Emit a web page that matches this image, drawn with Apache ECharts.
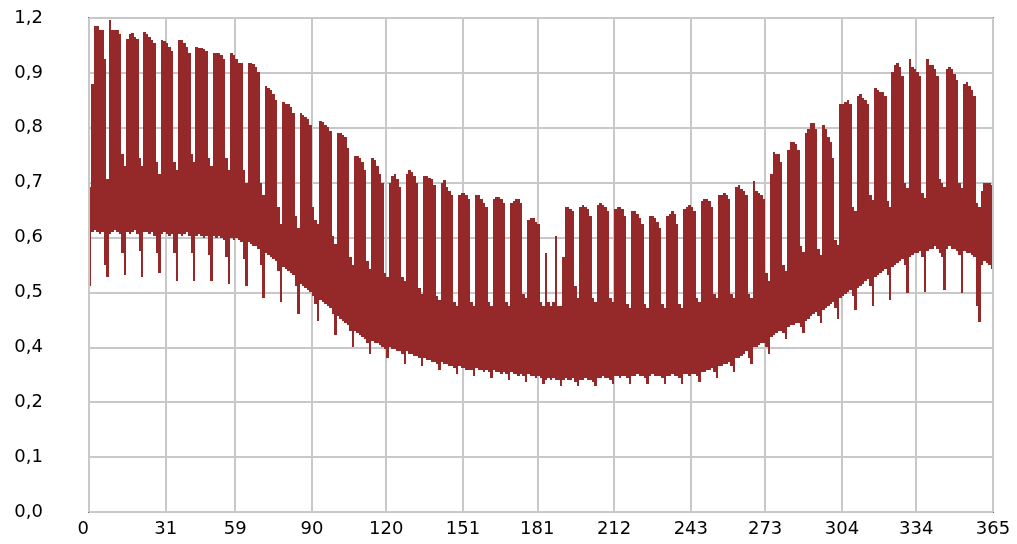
<!DOCTYPE html>
<html>
<head>
<meta charset="utf-8">
<script src="https://cdn.jsdelivr.net/npm/echarts@6/dist/echarts.min.js"></script>
<style>
  html, body { margin: 0; padding: 0; background: #ffffff; }
  #chart { width: 1017px; height: 544px; }
</style>
</head>
<body>
<div id="chart"></div>
<script>
// Day-of-year positions of the month boundaries shown on the x axis
const X_TICKS = [0, 31, 59, 90, 120, 151, 181, 212, 243, 273, 304, 334, 365];

// Labels printed on the nine evenly spaced y gridlines (bottom to top)
const Y_TICK_LABELS = ['0,0', '0,1', '0,2', '0,4', '0,5', '0,6', '0,7', '0,8', '0,9', '1,2'];
const Y_MAX = 1.2;

// Daily maximum of the load profile (one value per day, 0..364)
const DAY_HIGH = [
  0.79,
  1.04, 1.18, 1.18, 1.17, 1.17, 1.10, 0.81,
  1.195, 1.17, 1.17, 1.17, 1.16, 0.87, 0.84,
  1.15, 1.16, 1.163, 1.155, 1.15, 0.86, 0.84,
  1.165, 1.16, 1.155, 1.146, 1.14, 0.85, 0.82,
  1.146, 1.145, 1.14, 1.13, 1.12, 0.85, 0.83,
  1.146, 1.146, 1.14, 1.13, 1.114, 0.87, 0.85,
  1.13, 1.128, 1.128, 1.125, 1.12, 0.86, 0.84,
  1.114, 1.114, 1.114, 1.11, 1.10, 0.86, 0.83,
  1.114, 1.11, 1.10, 1.09, 1.09, 0.83, 0.80,
  1.09, 1.09, 1.088, 1.08, 1.07, 0.80, 0.77,
  1.035, 1.03, 1.025, 1.015, 1.00, 0.74, 0.70,
  0.995, 0.99, 0.99, 0.985, 0.97, 0.72, 0.69,
  0.97, 0.965, 0.96, 0.955, 0.94, 0.74, 0.71, 0.70,
  0.95, 0.948, 0.94, 0.935, 0.925, 0.67, 0.65,
  0.92, 0.92, 0.915, 0.91, 0.885, 0.62, 0.60,
  0.865, 0.865, 0.86, 0.85, 0.83, 0.61, 0.59,
  0.86, 0.855, 0.84, 0.82, 0.80, 0.58, 0.57,
  0.80, 0.815, 0.82, 0.81, 0.79, 0.57, 0.56,
  0.82, 0.83, 0.825, 0.815, 0.80, 0.545, 0.53,
  0.815, 0.815, 0.812, 0.81, 0.795, 0.525, 0.515,
  0.80, 0.806, 0.79, 0.78, 0.77, 0.51, 0.50,
  0.77, 0.775, 0.775, 0.77, 0.76, 0.51, 0.50,
  0.77, 0.77, 0.76, 0.75, 0.74, 0.51, 0.50,
  0.76, 0.765, 0.765, 0.76, 0.75, 0.51, 0.50,
  0.75, 0.755, 0.76, 0.76, 0.75, 0.53, 0.52,
  0.71, 0.715, 0.715, 0.705, 0.70, 0.51, 0.50,
  0.63, 0.51, 0.50, 0.51, 0.67, 0.50, 0.50,
  0.62, 0.74, 0.74, 0.735, 0.73, 0.55, 0.52,
  0.74, 0.745, 0.74, 0.735, 0.72, 0.52, 0.51,
  0.745, 0.75, 0.745, 0.74, 0.73, 0.52, 0.51,
  0.735, 0.74, 0.74, 0.735, 0.72, 0.505, 0.495,
  0.73, 0.73, 0.725, 0.715, 0.70, 0.505, 0.495,
  0.72, 0.72, 0.715, 0.705, 0.69, 0.505, 0.495,
  0.72, 0.725, 0.73, 0.725, 0.70, 0.505, 0.495,
  0.735, 0.74, 0.745, 0.74, 0.73, 0.52, 0.51,
  0.755, 0.76, 0.76, 0.755, 0.74, 0.53, 0.52,
  0.77, 0.77, 0.775, 0.77, 0.76, 0.53, 0.52,
  0.79, 0.795, 0.785, 0.78, 0.77, 0.53, 0.52,
  0.805, 0.78, 0.775, 0.77, 0.76, 0.58, 0.56,
  0.82, 0.875, 0.87, 0.87, 0.85, 0.60, 0.585,
  0.88, 0.90, 0.90, 0.895, 0.88, 0.645, 0.632,
  0.92, 0.93, 0.945, 0.945, 0.93, 0.64, 0.624,
  0.94, 0.93, 0.91, 0.90, 0.86, 0.66, 0.649,
  0.99, 0.99, 0.995, 1.00, 0.99, 0.74, 0.73,
  1.01, 1.015, 1.005, 1.00, 0.99, 0.77, 0.758,
  1.03, 1.025, 1.02, 1.02, 1.01, 0.755, 0.742,
  1.07, 1.085, 1.09, 1.08, 1.06, 0.80, 0.786,
  1.10, 1.08, 1.075, 1.07, 1.06, 0.775, 0.762,
  1.10, 1.085, 1.085, 1.075, 1.06, 0.81, 0.80, 0.79,
  1.075, 1.08, 1.075, 1.065, 1.05, 0.80, 0.786,
  1.04, 1.045, 1.035, 1.025, 1.01, 0.75, 0.74,
  0.78, 0.80, 0.80, 0.80, 0.795
];

// Daily minimum of the load profile (one value per day, 0..364)
const DAY_LOW = [
  0.55,
  0.68, 0.685, 0.68, 0.675, 0.68, 0.60, 0.57,
  0.675, 0.68, 0.685, 0.68, 0.675, 0.63, 0.575,
  0.68, 0.675, 0.68, 0.685, 0.675, 0.635, 0.57,
  0.68, 0.68, 0.675, 0.68, 0.67, 0.63, 0.58,
  0.675, 0.68, 0.675, 0.67, 0.675, 0.63, 0.56,
  0.675, 0.67, 0.675, 0.68, 0.67, 0.63, 0.56,
  0.67, 0.675, 0.67, 0.665, 0.67, 0.625, 0.56,
  0.67, 0.665, 0.67, 0.665, 0.66, 0.62, 0.555,
  0.665, 0.66, 0.665, 0.66, 0.655, 0.615, 0.55,
  0.655, 0.65, 0.645, 0.645, 0.64, 0.60, 0.52,
  0.63, 0.625, 0.62, 0.615, 0.61, 0.585, 0.51,
  0.595, 0.59, 0.585, 0.58, 0.575, 0.55, 0.48,
  0.555, 0.55, 0.545, 0.54, 0.535, 0.525, 0.505, 0.465,
  0.515, 0.51, 0.505, 0.50, 0.495, 0.48, 0.43,
  0.475, 0.47, 0.465, 0.46, 0.455, 0.44, 0.40,
  0.44, 0.435, 0.43, 0.425, 0.42, 0.41, 0.385,
  0.415, 0.41, 0.41, 0.405, 0.40, 0.395, 0.375,
  0.40, 0.395, 0.395, 0.39, 0.39, 0.385, 0.36,
  0.39, 0.385, 0.385, 0.38, 0.38, 0.375, 0.355,
  0.375, 0.37, 0.37, 0.365, 0.365, 0.36, 0.345,
  0.365, 0.36, 0.36, 0.355, 0.355, 0.35, 0.335,
  0.355, 0.35, 0.35, 0.345, 0.345, 0.345, 0.33,
  0.35, 0.345, 0.345, 0.34, 0.345, 0.34, 0.325,
  0.345, 0.34, 0.34, 0.335, 0.34, 0.335, 0.32,
  0.34, 0.335, 0.335, 0.33, 0.335, 0.33, 0.315,
  0.335, 0.33, 0.33, 0.325, 0.33, 0.325, 0.31,
  0.32, 0.325, 0.32, 0.325, 0.32, 0.32, 0.305,
  0.32, 0.325, 0.32, 0.32, 0.325, 0.315, 0.305,
  0.32, 0.32, 0.325, 0.32, 0.32, 0.315, 0.305,
  0.325, 0.325, 0.33, 0.325, 0.325, 0.32, 0.31,
  0.33, 0.33, 0.325, 0.33, 0.33, 0.325, 0.31,
  0.33, 0.33, 0.335, 0.33, 0.33, 0.325, 0.31,
  0.33, 0.335, 0.33, 0.33, 0.33, 0.325, 0.31,
  0.33, 0.33, 0.335, 0.33, 0.33, 0.325, 0.31,
  0.335, 0.335, 0.33, 0.335, 0.335, 0.33, 0.315,
  0.34, 0.34, 0.345, 0.345, 0.35, 0.34, 0.325,
  0.355, 0.355, 0.36, 0.36, 0.365, 0.355, 0.34,
  0.375, 0.375, 0.38, 0.385, 0.39, 0.375, 0.36,
  0.40, 0.40, 0.405, 0.41, 0.41, 0.40, 0.385,
  0.425, 0.43, 0.435, 0.44, 0.44, 0.435, 0.42,
  0.45, 0.455, 0.455, 0.46, 0.46, 0.45, 0.435,
  0.465, 0.47, 0.475, 0.48, 0.485, 0.475, 0.46,
  0.49, 0.495, 0.50, 0.505, 0.51, 0.495, 0.47,
  0.52, 0.525, 0.53, 0.535, 0.54, 0.525, 0.49,
  0.545, 0.55, 0.555, 0.56, 0.565, 0.55, 0.50,
  0.57, 0.575, 0.58, 0.585, 0.59, 0.575, 0.515,
  0.595, 0.60, 0.605, 0.61, 0.615, 0.60, 0.531,
  0.62, 0.625, 0.63, 0.63, 0.635, 0.62, 0.535,
  0.635, 0.64, 0.64, 0.645, 0.64, 0.63, 0.62, 0.539,
  0.64, 0.645, 0.64, 0.64, 0.635, 0.625, 0.531,
  0.635, 0.63, 0.63, 0.625, 0.62, 0.50, 0.462,
  0.60, 0.61, 0.605, 0.60, 0.59
];

const LINE_COLOR = '#952828';
const LABEL_FONT = 'DejaVu Sans';

// [day, low, high] rows for the custom series
const dayRanges = DAY_HIGH.map((high, day) => [day, DAY_LOW[day], high]);
const yStep = Y_MAX / (Y_TICK_LABELS.length - 1);

// Each day becomes one filled strip spanning its low..high range
function renderDay(params, api) {
  const day = api.value(0);
  const top = api.coord([day, api.value(2)]);
  const bottom = api.coord([day + 1, api.value(1)]);
  const cs = params.coordSys;
  let x0 = Math.round(top[0]);
  let x1 = Math.round(bottom[0]);
  x0 = Math.max(x0, cs.x + 1);
  x1 = Math.min(x1, cs.x + cs.width - 1);
  return {
    type: 'rect',
    shape: { x: x0, y: Math.round(top[1]), width: x1 - x0, height: Math.round(bottom[1]) - Math.round(top[1]) },
    style: { fill: LINE_COLOR }
  };
}

const chart = echarts.init(document.getElementById('chart'), null, { renderer: 'canvas' });
chart.setOption({
  animation: false,
  backgroundColor: '#ffffff',
  grid: {
    left: 89, right: 24, top: 18, bottom: 32,
    show: true, borderColor: '#000000', borderWidth: 1.5, backgroundColor: 'transparent'
  },
  xAxis: {
    type: 'value',
    min: 0,
    max: 365,
    axisLine: { show: false },
    axisTick: { show: false, customValues: X_TICKS },
    axisLabel: {
      customValues: X_TICKS,
      color: '#000000',
      fontFamily: LABEL_FONT,
      fontSize: 18,
      margin: 8,
      alignMinLabel: 'right'
    },
    splitLine: { show: true, lineStyle: { color: '#c8c8c8', width: 2 } }
  },
  yAxis: {
    type: 'value',
    min: 0,
    max: Y_MAX,
    interval: yStep,
    axisLine: { show: false },
    axisTick: { show: false },
    axisLabel: {
      color: '#000000',
      fontFamily: LABEL_FONT,
      fontSize: 18,
      margin: 46,
      formatter: (v) => Y_TICK_LABELS[Math.round(v / yStep)]
    },
    splitLine: { show: true, lineStyle: { color: '#c8c8c8', width: 2 } }
  },
  series: [{
    type: 'custom',
    renderItem: renderDay,
    data: dayRanges,
    encode: { x: 0, y: [1, 2] },
    clip: true
  }]
});
</script>
</body>
</html>
